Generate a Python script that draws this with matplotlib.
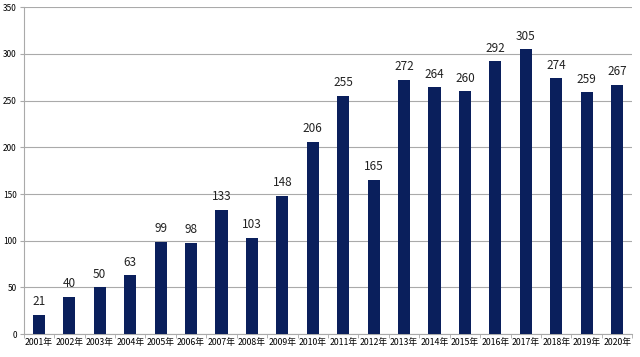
import matplotlib
matplotlib.use('Agg')
import matplotlib.pyplot as plt
import numpy as np

plt.rcParams['font.family'] = ['Noto Sans CJK SC', 'DejaVu Sans']

years = ['2001年', '2002年', '2003年', '2004年', '2005年', '2006年', '2007年',
         '2008年', '2009年', '2010年', '2011年', '2012年', '2013年', '2014年',
         '2015年', '2016年', '2017年', '2018年', '2019年', '2020年']
values = [21, 40, 50, 63, 99, 98, 133, 103, 148, 206, 255, 165, 272, 264,
          260, 292, 305, 274, 259, 267]

fig = plt.figure(figsize=(6.4, 3.57), dpi=100)
ax = fig.add_axes([0.037, 0.064, 0.951, 0.916])

x = np.arange(len(years))
ax.bar(x, values, width=0.4, color='#0a1f5c', zorder=3)

for xi, v in zip(x, values):
    ax.text(xi, v + 7, str(v), ha='center', va='bottom', fontsize=8.5, color='#222222')

ax.set_ylim(0, 350)
ax.set_yticks(range(0, 351, 50))
ax.set_xlim(-0.5, len(years) - 0.5)
ax.set_xticks(x)
ax.set_xticklabels(years, fontsize=6.3)
ax.tick_params(axis='y', labelsize=6, length=3, color='#aaaaaa', pad=2)
ax.tick_params(axis='x', length=0, pad=3)
ax.set_xticks(np.arange(-0.5, len(years), 1), minor=True)
ax.tick_params(axis='x', which='minor', length=3, color='#aaaaaa')

ax.grid(axis='y', color='#aaaaaa', linewidth=0.8, zorder=0)
for s in ['top', 'right']:
    ax.spines[s].set_visible(False)
ax.spines['left'].set_color('#aaaaaa')
ax.spines['bottom'].set_color('#aaaaaa')

fig.savefig('out.png', dpi=100)
